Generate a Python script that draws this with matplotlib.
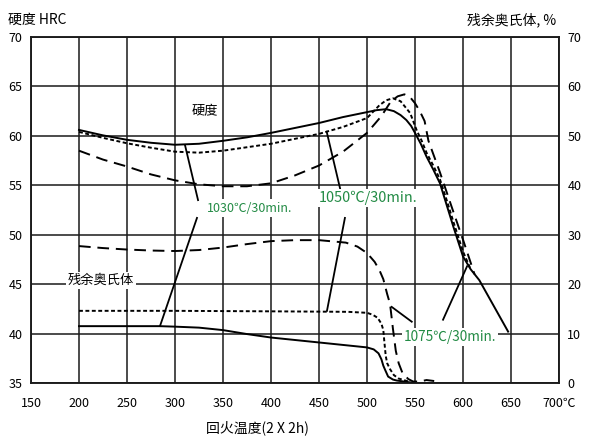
import matplotlib
matplotlib.use('Agg')
import matplotlib.pyplot as plt

plt.rcParams['font.family'] = ['Noto Sans CJK SC', 'DejaVu Sans']
plt.rcParams['axes.unicode_minus'] = False

# 硬度 HRC (左轴)
t_h1030 = [200, 225, 250, 275, 300, 325, 350, 375, 400, 425, 450, 475, 500, 510, 520, 528, 535, 541, 546, 550,
           556, 562, 569, 576, 583, 590, 600, 608, 617, 632, 647]
h_1030 = [60.6, 60.05, 59.6, 59.3, 59.1, 59.2, 59.5, 59.85, 60.3, 60.8, 61.3, 61.9, 62.4, 62.6, 62.7, 62.5, 62.1, 61.6, 61.0, 60.3,
          59.2, 57.9, 56.6, 55.2, 53.0, 50.8, 47.8, 46.5, 45.4, 42.8, 40.2]

t_h1050 = [200, 225, 250, 275, 300, 325, 350, 375, 400, 425, 450, 475, 500, 506, 513, 520, 527, 535, 545, 552,
           557, 562, 569, 576, 583, 590, 600, 608]
h_1050 = [60.4, 59.8, 59.25, 58.8, 58.4, 58.3, 58.5, 58.85, 59.2, 59.7, 60.2, 60.9, 61.8, 62.4, 63.1, 63.6, 63.8, 63.5, 62.3, 60.5,
          59.5, 58.3, 57.0, 55.6, 53.5, 51.3, 48.3, 46.5]

t_h1075 = [200, 225, 250, 275, 300, 325, 350, 375, 400, 425, 450, 475, 500, 508, 515, 525, 532, 539, 545, 550,
           555, 560, 564, 570, 576, 583, 590, 600, 612]
h_1075 = [58.5, 57.6, 56.9, 56.1, 55.5, 55.1, 54.9, 54.9, 55.2, 56.0, 57.0, 58.4, 60.3, 61.2, 62.0, 63.5, 64.0, 64.2, 63.9, 63.3,
          62.5, 61.5, 59.5, 57.9, 56.3, 54.3, 52.3, 49.5, 46.0]

# 残余奥氏体 % (右轴)
t_ra1030 = [200, 250, 284, 300, 325, 350, 375, 400, 425, 450, 475, 500, 507, 512, 515, 517, 519, 522, 527, 531, 542, 550]
ra_1030 = [11.5, 11.5, 11.5, 11.4, 11.2, 10.7, 9.9, 9.2, 8.7, 8.2, 7.7, 7.2, 6.8, 6.0, 4.8, 3.5, 2.6, 1.3, 0.7, 0.5, 0.2, 0.0]

t_ra1050 = [200, 300, 400, 480, 500, 506, 511, 515, 517, 518, 519.5, 521, 524, 528, 533, 545]
ra_1050 = [14.6, 14.6, 14.5, 14.4, 14.2, 13.8, 13.2, 12.0, 10.7, 8.5, 5.5, 4.0, 2.8, 1.6, 0.9, 0.2]

t_ra1075 = [200, 225, 250, 275, 300, 325, 350, 375, 400, 425, 450, 478, 490, 500, 508, 513, 517, 521, 524, 527,
            530, 533, 537, 543, 548, 555, 562, 570]
ra_1075 = [27.7, 27.3, 27.0, 26.8, 26.7, 26.9, 27.4, 28.1, 28.7, 28.9, 28.9, 28.4, 27.6, 26.3, 24.5, 22.8, 21.0, 18.0, 16.0, 11.0,
           6.5, 4.0, 2.0, 0.8, 0.3, 0.3, 0.6, 0.4]

x_ticks = [150, 200, 250, 300, 350, 400, 450, 500, 550, 600, 650, 700]
x_labels = ['150', '200', '250', '300', '350', '400', '450', '500', '550', '600', '650', '700℃']
hrc_ticks = [35, 40, 45, 50, 55, 60, 65, 70]
ra_ticks = [0, 10, 20, 30, 40, 50, 60, 70]

# 标注引线 (HRC 坐标)
lead_1030 = [((310.4, 59.07), (324.0, 53.5)), ((322.9, 51.7), (284.4, 40.77))]
lead_1050 = [((458.0, 60.42), (471.9, 54.7)), ((477.0, 51.7), (458.3, 42.3))]
lead_1075 = [((579.2, 41.4), (604.2, 46.8)), ((546.6, 41.2), (525.7, 42.7))]

green = '#238b45'
dashed = (0, (6, 3.5))
dotted = (0, (2, 1.3))

fig = plt.figure(figsize=(6, 4.44), dpi=100)
ax = fig.add_axes([31 / 600, 61 / 444, 528 / 600, 346 / 444])
ax2 = ax.twinx()

ax.set_xlim(150, 700)
ax.set_ylim(35, 70)
ax2.set_ylim(0, 70)
ax.set_xticks(x_ticks)
ax.set_xticklabels(x_labels)
ax.set_yticks(hrc_ticks)
ax2.set_yticks(ra_ticks)
ax.grid(True, color='#1a1a1a', lw=1.1)
ax.tick_params(axis='x', length=0, pad=10, labelsize=9)
ax.tick_params(axis='y', length=0, pad=6, labelsize=9)
ax2.tick_params(axis='y', length=0, pad=6, labelsize=9)
for a in (ax, ax2):
    for s in a.spines.values():
        s.set_linewidth(1.1)
        s.set_color('#1a1a1a')

lw = 1.4
ax.plot(t_h1030, h_1030, color='black', lw=lw)
ax.plot(t_h1050, h_1050, color='black', lw=lw, linestyle=dotted)
ax.plot(t_h1075, h_1075, color='black', lw=lw, linestyle=dashed)
ax2.plot(t_ra1030, ra_1030, color='black', lw=lw)
ax2.plot(t_ra1050, ra_1050, color='black', lw=lw, linestyle=dotted)
ax2.plot(t_ra1075, ra_1075, color='black', lw=lw, linestyle=dashed)

for seg in lead_1030 + lead_1050 + lead_1075:
    (x0, y0), (x1, y1) = seg
    ax2.plot([x0, x1], [y0, y1], color='black', lw=1.3, transform=ax.transData)

box = dict(facecolor='white', edgecolor='none', pad=1.5)
ax2.text(331, 62.4, '硬度', transform=ax.transData, ha='center', va='center', fontsize=9.5, bbox=box)
ax2.text(223, 45.4, '残余奥氏体', transform=ax.transData, ha='center', va='center', fontsize=9.5, bbox=box)
ax2.text(378, 52.7, '1030℃/30min.', transform=ax.transData, ha='center', va='center', fontsize=9, color=green, bbox=box)
ax2.text(501, 53.7, '1050℃/30min.', transform=ax.transData, ha='center', va='center', fontsize=10.4, color=green, bbox=box)
ax2.text(586.5, 39.65, '1075℃/30min.', transform=ax.transData, ha='center', va='center', fontsize=9.8, color=green, bbox=box)

fig.text(8 / 600, 1 - 20 / 444, '硬度 HRC', ha='left', va='center', fontsize=10)
fig.text(556 / 600, 1 - 20 / 444, '残余奥氏体, %', ha='right', va='center', fontsize=10)
fig.text(257.5 / 600, 1 - 428 / 444, '回火温度(2 X 2h)', ha='center', va='center', fontsize=10)

fig.savefig('out.png', dpi=100)
